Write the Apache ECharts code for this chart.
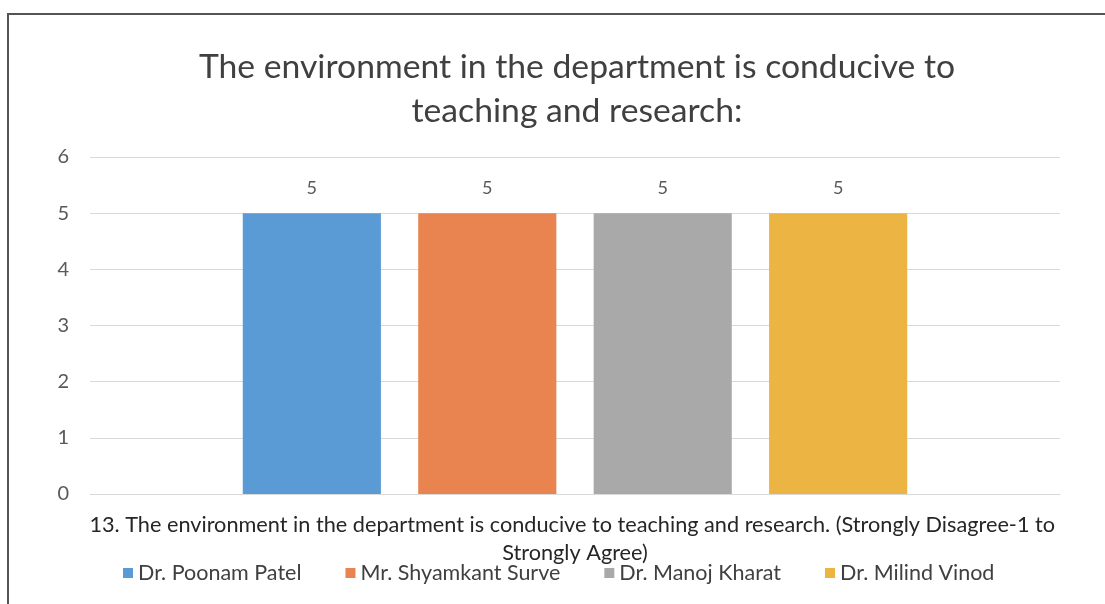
<!DOCTYPE html>
<html>
<head>
<meta charset="utf-8">
<script src="https://cdn.jsdelivr.net/npm/echarts@6/dist/echarts.min.js"></script>
<style>
  html, body { margin: 0; padding: 0; background: #fff; }
  #chart { width: 1105px; height: 604px; }
</style>
</head>
<body>
<div id="chart"></div>
<script>
// 数据
const titleText = 'The environment in the department is conducive to\nteaching and research:'
const categories = ['13. The environment in the department is conducive to teaching and research. (Strongly Disagree-1 to Strongly Agree)']
const seriesNames = ['Dr. Poonam Patel', 'Mr. Shyamkant Surve', 'Dr. Manoj Kharat', 'Dr. Milind Vinod']
const seriesValues = [[5], [5], [5], [5]]
const yTicks = [0, 1, 2, 3, 4, 5, 6]
const colors = ['#5b9bd5', '#e9834f', '#a9a9a9', '#ebb443']

const font = 'Lato'
const chart = echarts.init(document.getElementById('chart'))

chart.setOption({
  animation: false,
  color: colors,
  textStyle: { fontFamily: font },
  title: {
    text: titleText,
    left: 572,
    textAlign: 'center',
    top: 40,
    textStyle: {
      fontFamily: font,
      fontSize: 33.7,
      fontWeight: 'normal',
      color: '#404040',
      lineHeight: 44
    }
  },
  // 图框
  graphic: [{
    type: 'polyline',
    shape: { points: [[8, 640], [8, 14], [1110, 14]] },
    style: { stroke: '#555', lineWidth: 2, fill: 'none' },
    silent: true
  }],
  legend: {
    data: seriesNames,
    left: 118,
    top: 557,
    itemWidth: 10,
    itemHeight: 10,
    itemGap: 44,
    icon: 'rect',
    textStyle: { fontFamily: font, fontSize: 21.5, color: '#404040' }
  },
  grid: {
    left: 90,
    right: 45,
    top: 157,
    bottom: 110,
    containLabel: false
  },
  xAxis: {
    type: 'category',
    data: categories,
    axisLine: { show: true, lineStyle: { color: '#d9d9d9' } },
    axisTick: { show: false },
    axisLabel: {
      margin: 17,
      fontFamily: font,
      fontSize: 21.7,
      lineHeight: 28,
      color: '#262626',
      width: 990,
      overflow: 'break',
      interval: 0
    }
  },
  yAxis: {
    type: 'value',
    min: yTicks[0],
    max: yTicks[yTicks.length - 1],
    interval: 1,
    axisLine: { show: false },
    axisTick: { show: false },
    splitLine: { lineStyle: { color: '#d9d9d9', width: 1 } },
    axisLabel: {
      margin: 21,
      fontFamily: font,
      fontSize: 20,
      color: '#595959'
    }
  },
  series: seriesNames.map((name, i) => ({
    name: name,
    type: 'bar',
    data: seriesValues[i],
    barGap: '27%',
    barCategoryGap: '31.5%',
    label: {
      show: true,
      position: 'top',
      distance: 16,
      fontFamily: font,
      fontSize: 18,
      color: '#595959'
    }
  }))
})
</script>
</body>
</html>
